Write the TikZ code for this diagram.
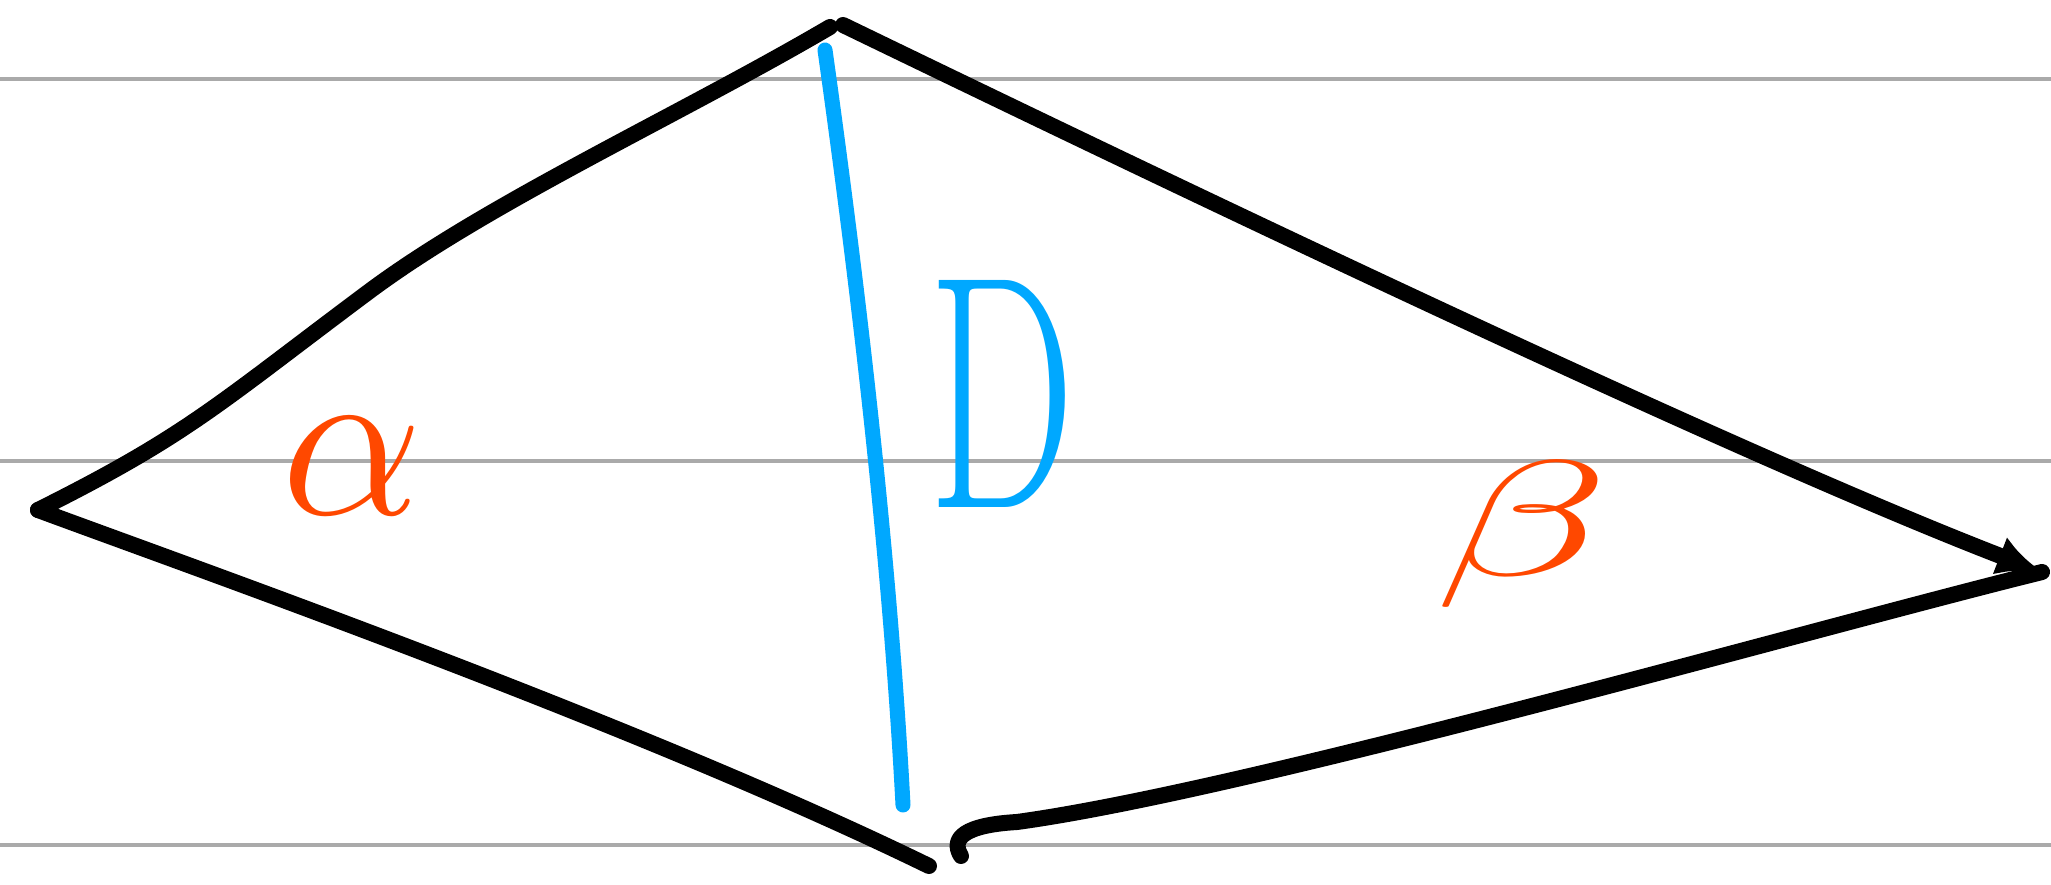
\documentclass[tikz,border=0pt]{standalone}
\usepackage{tikz}
\usetikzlibrary{arrows.meta}
\definecolor{inkorange}{RGB}{255,72,0}
\definecolor{inkblue}{RGB}{0,168,255}
\definecolor{ruled}{RGB}{170,170,170}
\tikzset{
  ruling/.style={draw=ruled, line width=0.035cm},
  inkline/.style={draw=black, line width=0.16cm, line cap=round, line join=round},
  diagonal/.style={draw=inkblue, line width=0.15cm, line cap=round},
  anglelabel/.style={text=inkorange, inner sep=0pt, font=\Huge},
  sidelabel/.style={text=inkblue, inner sep=0pt, font=\Huge}
}

\begin{document}
\begin{tikzpicture}[x=0.01cm, y=-0.01cm]
  \useasboundingbox (0,0) rectangle (2051,885);

  % ruled paper
  \foreach \ry in {79,461,845}
    \draw[ruling] (0,\ry) -- (2051,\ry);

  \coordinate (left) at (38,510);
  \coordinate (topL) at (830,27);
  \coordinate (topR) at (843,25);
  \coordinate (right) at (2042,572);
  \coordinate (botL) at (929,866);
  \coordinate (botR) at (961,856);
  \coordinate (kneeUL) at (367,293);
  \coordinate (hook) at (1017,822);
  \coordinate (dtop) at (825,50);
  \coordinate (dbot) at (903,805);

  % outline
  \draw[inkline] (left) .. controls (188,435) and (217,405) .. (kneeUL)
    .. controls (487,203) and (680,115) .. (topL);
  \draw[inkline, -{Latex[length=0.45cm, width=0.4cm]}]
    (topR) .. controls (1050,125) and (1700,440) .. (right);
  \draw[inkline] (left) .. controls (200,570) and (640,725) .. (botL);
  \draw[inkline] (botR) .. controls (950,838) and (965,825) .. (hook)
    .. controls (1250,790) and (1800,632) .. (right);

  % diagonal
  \draw[diagonal] (dtop) .. controls (860,300) and (890,560) .. (dbot);

  \node[anglelabel, scale=2.57] (alpha) at (352,466) {$\alpha$};
  \node[sidelabel, xscale=2.37, yscale=3.8] (dlabel) at (1002,394) {D};
  \node[anglelabel, xscale=3.3, yscale=1.88] (beta) at (1522,534) {$\beta$};
\end{tikzpicture}
\end{document}
